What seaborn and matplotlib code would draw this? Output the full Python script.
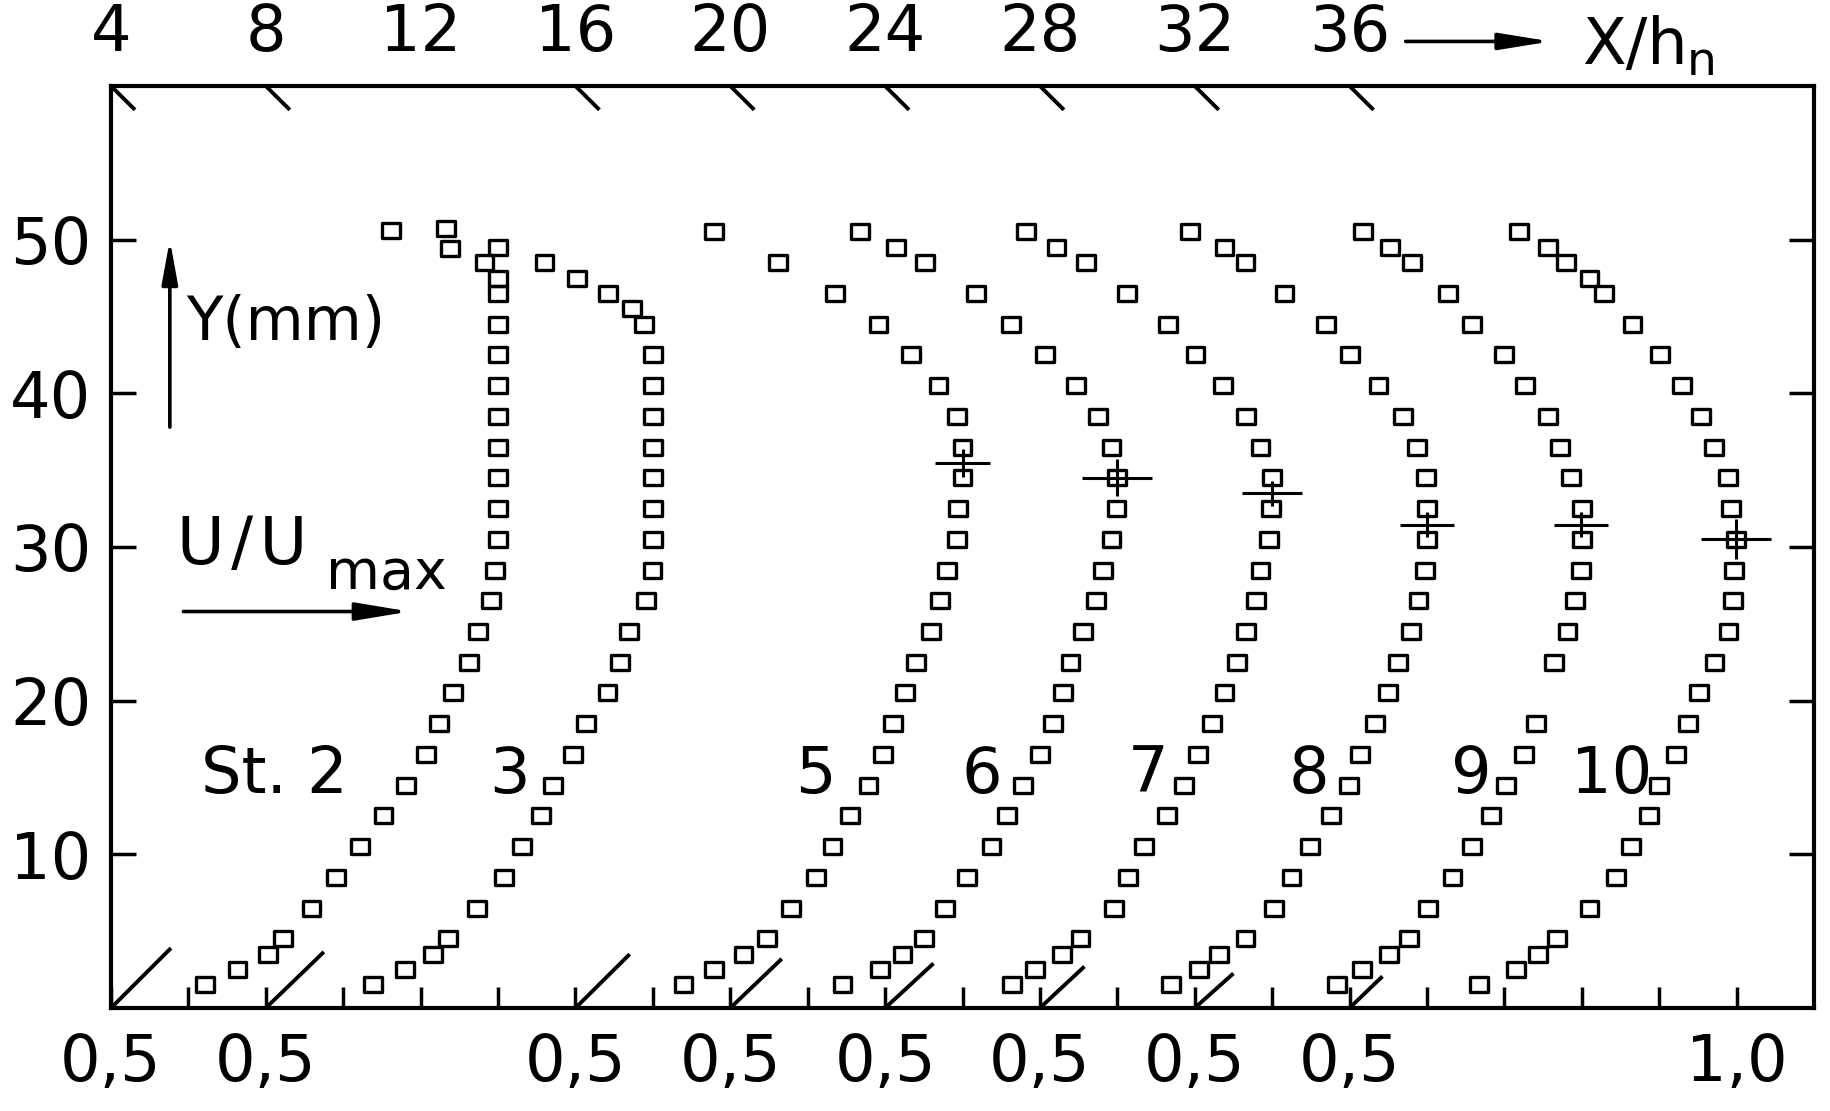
import numpy as np
import pandas as pd
import matplotlib
matplotlib.use("Agg")
import matplotlib.pyplot as plt
from matplotlib.path import Path
from matplotlib.ticker import FixedLocator
import seaborn as sns

# ---------------------------------------------------------------------------
# Measured mean-velocity profiles U/Umax over the wall distance Y (mm)
# ---------------------------------------------------------------------------
Y_MM = [1.5, 2.5, 3.5, 4.5, 6.5, 8.5, 10.5, 12.5, 14.5, 16.5, 18.5, 20.5,
        22.5, 24.5, 26.5, 28.5, 30.5, 32.5, 34.5, 36.5, 38.5, 40.5, 42.5,
        44.5, 46.5]

STATIONS = ["St. 2", "3", "5", "6", "7", "8", "9", "10"]
STATION_XH = [4, 8, 16, 20, 24, 28, 32, 36]          # X/h_n of each station

U_ST2 = [0.242, 0.327, 0.405, 0.445, 0.518, 0.581, 0.643, 0.704, 0.763, 0.813,
         0.848, 0.884, 0.924, 0.949, 0.982, 0.993, 1.000, 1.000, 1.000, 1.000,
         1.000, 1.000, 1.000, 1.000, 1.000]
U_ST3 = [0.278, 0.359, 0.431, 0.470, 0.546, 0.615, 0.662, 0.711, 0.742, 0.794,
         0.827, 0.883, 0.916, 0.938, 0.983, 0.999, 1.000, 1.000, 1.000, 1.000,
         1.000, 1.000, 1.000, 0.978, 0.884]
U_ST5 = [0.279, 0.359, 0.434, 0.494, 0.557, 0.622, 0.664, 0.710, 0.757, 0.794,
         0.821, 0.851, 0.880, 0.918, 0.942, 0.959, 0.985, 0.989, 1.000, 1.000,
         0.985, 0.938, 0.867, 0.783, 0.671]
U_ST6 = [0.290, 0.387, 0.445, 0.500, 0.555, 0.612, 0.675, 0.715, 0.757, 0.800,
         0.834, 0.860, 0.879, 0.912, 0.946, 0.963, 0.985, 0.998, 1.000, 0.985,
         0.951, 0.893, 0.813, 0.726, 0.634]
U_ST7 = [0.327, 0.387, 0.456, 0.505, 0.591, 0.628, 0.670, 0.729, 0.772, 0.808,
         0.844, 0.877, 0.910, 0.933, 0.959, 0.970, 0.991, 0.998, 1.000, 0.970,
         0.933, 0.873, 0.802, 0.731, 0.624]
U_ST8 = [0.338, 0.410, 0.462, 0.531, 0.604, 0.650, 0.697, 0.752, 0.799, 0.828,
         0.866, 0.900, 0.926, 0.958, 0.978, 0.995, 1.000, 1.000, 0.998, 0.975,
         0.938, 0.875, 0.801, 0.740, 0.632]
U_ST9 = [0.368, 0.433, 0.501, 0.553, 0.603, 0.666, 0.717, 0.765, 0.804, 0.851,
         0.881, np.nan, 0.929, 0.963, 0.982, 0.998, 1.000, 1.000, 0.973, 0.944,
         0.913, 0.853, 0.798, 0.717, 0.654]
U_ST10 = [0.335, 0.430, 0.487, 0.537, 0.620, 0.688, 0.727, 0.774, 0.800, 0.843,
          0.875, 0.903, 0.943, 0.979, 0.990, 0.994, 0.998, 0.985, 0.977, 0.942,
          0.908, 0.858, 0.803, 0.731, 0.658]

# Additional readings close to the upper wall
TOP_Y_ST2 = [47.5, 48.5, 49.5, 50.7]
TOP_U_ST2 = [1.000, 0.965, 1.000, 0.865]
TOP_Y_ST3 = [45.5, 47.5, 48.5, 49.4, 50.6]
TOP_U_ST3 = [0.947, 0.804, 0.720, 0.476, 0.323]
TOP_Y_ST5 = [48.5, 50.5]
TOP_U_ST5 = [0.524, 0.358]
TOP_Y_ST6 = [48.5, 49.5, 50.5]
TOP_U_ST6 = [0.503, 0.428, 0.335]
TOP_Y_ST7 = [48.5, 49.5, 50.5]
TOP_U_ST7 = [0.520, 0.443, 0.365]
TOP_Y_ST8 = [48.5, 49.5, 50.5]
TOP_U_ST8 = [0.531, 0.477, 0.387]
TOP_Y_ST9 = [48.5, 49.5, 50.5]
TOP_U_ST9 = [0.562, 0.505, 0.434]
TOP_Y_ST10 = [47.5, 48.5, 49.5, 50.5]
TOP_U_ST10 = [0.620, 0.559, 0.512, 0.438]

# Scatter of U/Umax and Y at the velocity maximum (stations 5 ... 10)
EB_XH = [16, 20, 24, 28, 32, 36]
EB_U = [1.000, 1.000, 1.000, 1.000, 0.997, 0.998]
EB_Y = [35.45, 34.5, 33.5, 31.45, 31.45, 30.5]
EB_UERR = [0.070, 0.090, 0.077, 0.070, 0.070, 0.090]
EB_YERR = [0.9, 1.2, 0.8, 0.8, 0.8, 1.3]

# Wall gradient indicated at every station: extent in U/Umax and in Y (mm)
WALL_DU = [0.155, 0.150, 0.140, 0.133, 0.125, 0.115, 0.100, 0.085]
WALL_DY = [3.90, 3.65, 3.50, 3.20, 2.90, 2.70, 2.25, 2.06]

# Axis ticks
XH_TICKS = [4, 8, 12, 16, 20, 24, 28, 32, 36]
U_LABEL_POS = [4, 8, 16, 20, 24, 28, 32, 36, 46]
U_LABELS = ["0,5"] * 8 + ["1,0"]
U_MINOR = list(range(6, 47, 2))
Y_TICKS = [10, 20, 30, 40, 50]

U_SCALE = 10.0        # one unit of U/Umax spans 10 units of X/h_n
X_LIM = (4, 48)
Y_LIM = (0, 60)

# ---------------------------------------------------------------------------
u_lists = [U_ST2, U_ST3, U_ST5, U_ST6, U_ST7, U_ST8, U_ST9, U_ST10]
top_y = [TOP_Y_ST2, TOP_Y_ST3, TOP_Y_ST5, TOP_Y_ST6, TOP_Y_ST7, TOP_Y_ST8,
         TOP_Y_ST9, TOP_Y_ST10]
top_u = [TOP_U_ST2, TOP_U_ST3, TOP_U_ST5, TOP_U_ST6, TOP_U_ST7, TOP_U_ST8,
         TOP_U_ST9, TOP_U_ST10]

frames = []
for name, x0, u, ty, tu in zip(STATIONS, STATION_XH, u_lists, top_y, top_u):
    part = pd.DataFrame({"station": name,
                         "Y": list(Y_MM) + list(ty),
                         "U": list(u) + list(tu)})
    part["x_plot"] = x0 + U_SCALE * part["U"]
    frames.append(part)
df = pd.concat(frames, ignore_index=True).dropna()

sns.set_theme(style="white")
plt.rcParams["font.family"] = ["DejaVu Sans"]
plt.rcParams["text.color"] = "black"
plt.rcParams["axes.edgecolor"] = "black"
plt.rcParams["xtick.color"] = "black"
plt.rcParams["ytick.color"] = "black"

fig = plt.figure(figsize=(18.3, 11.11), dpi=100)
fig.patch.set_facecolor("white")
ax = fig.add_axes([111 / 1830, 1 - 1008 / 1111, 1703 / 1830, 922 / 1111])
ax.set_facecolor("white")

# slightly wide open squares
box = Path([(-0.5, -0.42), (0.5, -0.42), (0.5, 0.42), (-0.5, 0.42), (-0.5, -0.42)],
           closed=True)
sns.scatterplot(data=df, x="x_plot", y="Y", marker=box, s=165,
                facecolors="none", edgecolor="black", linewidth=2.4,
                legend=False, ax=ax, zorder=3)

ax.errorbar(np.array(EB_XH) + U_SCALE * np.array(EB_U), EB_Y,
            xerr=U_SCALE * np.array(EB_UERR), yerr=EB_YERR, fmt="none",
            ecolor="black", elinewidth=2.2, capsize=0, zorder=4)

# wall gradient strokes at the bottom, station marks at the top
for x0, du, dy in zip(STATION_XH, WALL_DU, WALL_DY):
    ax.plot([x0, x0 + U_SCALE * du], [Y_LIM[0], Y_LIM[0] + dy], color="black",
            lw=2.8, clip_on=False, solid_capstyle="butt", zorder=2)
    ax.plot([x0, x0 + 0.62], [Y_LIM[1], Y_LIM[1] - 1.55], color="black",
            lw=2.8, clip_on=False, solid_capstyle="butt", zorder=2)

ax.set_xlim(*X_LIM)
ax.set_ylim(*Y_LIM)
ax.set_xlabel("")
ax.set_ylabel("")

for side in ["left", "right", "top", "bottom"]:
    ax.spines[side].set_visible(True)
    ax.spines[side].set_color("black")
    ax.spines[side].set_linewidth(3.0)

ax.set_xticks(U_LABEL_POS)
ax.set_xticklabels(U_LABELS)
ax.xaxis.set_minor_locator(FixedLocator(U_MINOR))
ax.tick_params(axis="x", which="both", direction="in", length=15, width=2.5,
               bottom=True, top=False, labelbottom=True, pad=17, labelsize=46)
ax.set_yticks(Y_TICKS)
ax.set_yticklabels([str(v) for v in Y_TICKS])
ax.tick_params(axis="y", which="major", direction="in", length=18, width=2.5,
               left=True, right=True, labelleft=True, labelright=False,
               pad=14, labelsize=46)

top = ax.secondary_xaxis("top")
top.set_xticks(XH_TICKS)
top.set_xticklabels([str(v) for v in XH_TICKS])
top.tick_params(axis="x", which="major", length=0, pad=16, labelsize=46)
top.xaxis.set_minor_locator(FixedLocator([12]))
top.tick_params(axis="x", which="minor", direction="in", length=9, width=2.5)
for s in top.spines.values():
    s.set_visible(False)

# axis captions
ax.annotate("", xy=(5.52, 50.0), xytext=(5.52, 37.8),
            arrowprops=dict(arrowstyle="-|>,head_length=2.2,head_width=0.4",
                            mutation_scale=12, lw=2.6, color="black",
                            shrinkA=0, shrinkB=0))
ax.text(5.93, 43.5, "Y(mm)", fontsize=43, ha="left", va="baseline")

ax.text(5.71, 28.9, "U\u200a/\u200aU", fontsize=47, ha="left", va="baseline")
ax.text(9.55, 27.3, "max", fontsize=40, ha="left", va="baseline")
ax.annotate("", xy=(11.71, 25.8), xytext=(5.87, 25.8),
            arrowprops=dict(arrowstyle="-|>,head_length=2.7,head_width=0.45",
                            mutation_scale=12, lw=2.6, color="black",
                            shrinkA=0, shrinkB=0))

ax.annotate("", xy=(41.2, 62.9), xytext=(37.45, 62.9), annotation_clip=False,
            arrowprops=dict(arrowstyle="-|>,head_length=2.6,head_width=0.42",
                            mutation_scale=12, lw=2.6, color="black",
                            shrinkA=0, shrinkB=0))
ax.text(42.0, 61.4, "X/h", fontsize=46, ha="left", va="baseline", clip_on=False)
ax.text(44.72, 60.7, "n", fontsize=34, ha="left", va="baseline", clip_on=False)

# station numbers
LABEL_X = [8.21, 14.3, 22.2, 26.5, 30.8, 34.95, 39.14, 42.78]
for name, lx in zip(STATIONS, LABEL_X):
    ax.text(lx, 14.0, name, fontsize=46, ha="center", va="baseline")

fig.savefig("out.png", dpi=100, facecolor="white")
